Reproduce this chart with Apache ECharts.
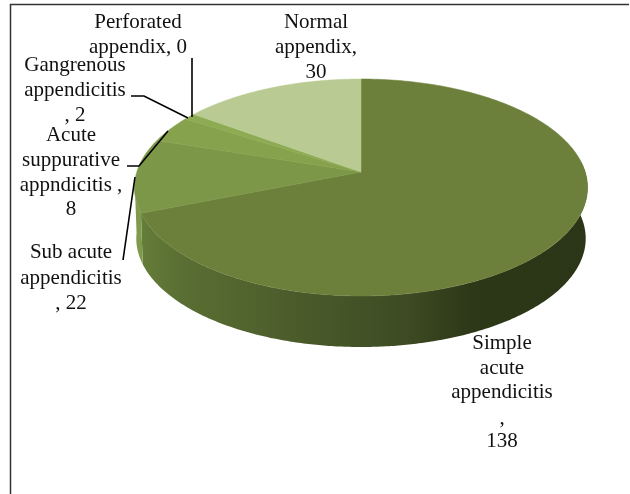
<!DOCTYPE html>
<html>
<head>
<meta charset="utf-8">
<style>
  html, body { margin: 0; padding: 0; background: #fff; }
  #chart { width: 630px; height: 494px; }
</style>
<script src="https://cdn.jsdelivr.net/npm/echarts@6/dist/echarts.min.js"></script>
</head>
<body>
<div id="chart"></div>
<script>
// Chart data, clockwise from 12 o'clock.
const categories = ['Simple acute appendicitis', 'Sub acute appendicitis', 'Acute suppurative appndicitis', 'Gangrenous appendicitis', 'Perforated appendix', 'Normal appendix'];
const values = [138, 22, 8, 2, 0, 30];
const topColors = ['#6c803b', '#7d9748', '#86a24c', '#8dab52', '#a0bb6c', '#b9cb92'];

// Pie projection, a tilted disc seen in perspective.
const cx = 361, cy = 172, rx = 224.2, ry = 106.3, persp = 1 / 7, depth = 51;
const total = values.reduce((a, b) => a + b, 0);

// Text of each label, broken as in the picture.
const labelLines = [
  { lines: ['Simple', 'acute', 'appendicitis', ',', '138'], x: 502, y: [343, 368, 392, 418, 441] },
  { lines: ['Sub acute', 'appendicitis', ', 22'], x: 71, y: [252, 278, 303] },
  { lines: ['Acute', 'suppurative', 'appndicitis ,', '8'], x: 71, y: [135, 160, 185, 209] },
  { lines: ['Gangrenous', 'appendicitis', ', 2'], x: 75, y: [65, 90, 115] },
  { lines: ['Perforated', 'appendix, 0'], x: 138, y: [22, 47] },
  { lines: ['Normal', 'appendix,', '30'], x: 316, y: [22, 47, 72] }
];
const leaderLines = [
  [[135, 177], [123, 260]],
  [[127, 166], [139, 166], [168, 131]],
  [[131, 96], [144, 96], [188, 118]],
  [[192, 58], [192, 117]]
];

function project(angle) {
  const u = Math.sin(angle), v = -Math.cos(angle);
  const d = 1 - persp * v;
  return [cx + rx * u / d, cy + ry * v / d];
}

function arcPoints(from, to) {
  const n = Math.max(2, Math.ceil(Math.abs(to - from) / 0.01));
  const pts = [];
  for (let i = 0; i <= n; i++) {
    pts.push(project(from + (to - from) * i / n));
  }
  return pts;
}

function sliceRange(index) {
  let sum = 0;
  for (let i = 0; i < index; i++) sum += values[i];
  return [sum / total * Math.PI * 2, (sum + values[index]) / total * Math.PI * 2];
}

// Visible outer wall: only the part of the rim that faces the viewer.
function wallPoints(from, to) {
  const top = arcPoints(from, to);
  const bottom = top.map(p => [cx + (p[0] - cx) * 0.992, p[1] + depth]).reverse();
  return top.concat(bottom);
}

const wallGradient = new echarts.graphic.LinearGradient(134, 0, 588, 0, [
  { offset: 0, color: '#67803a' },
  { offset: 0.1, color: '#5a6f33' },
  { offset: 0.35, color: '#4b5c2b' },
  { offset: 0.6, color: '#3d4b23' },
  { offset: 0.74, color: '#2d3818' },
  { offset: 1, color: '#2b3517' }
], true);

function renderSlice(params, api) {
  const i = api.value(0);
  const range = sliceRange(i);
  if (values[i] === 0) return { type: 'group', children: [] };
  const rimEnd = Math.max(range[0], Math.PI * 1.5);
  const children = [];
  // Walls of the slices that cross the front half of the rim.
  if (range[0] < Math.PI * 1.47) {
    const start = Math.max(range[0], Math.PI * 0.47);
    const end = Math.min(range[1], Math.PI * 1.47);
    children.push({
      type: 'polygon',
      z2: 1,
      shape: { points: wallPoints(start, end) },
      style: { fill: i === 0 ? wallGradient : '#7f9a4a' }
    });
  }
  const face = [[cx, cy]].concat(arcPoints(range[0], range[1]));
  children.push({
    type: 'polygon',
    z2: 10 + i,
    shape: { points: face },
    style: { fill: topColors[i], stroke: topColors[i], lineWidth: 0.5 }
  });
  return { type: 'group', children: children };
}

const graphicItems = [
  { type: 'polyline', shape: { points: [[10.5, 494], [10.5, 4.5], [629, 4.5]] }, style: { fill: 'none', stroke: '#333', lineWidth: 1.5 }, z: 1 }
];
leaderLines.forEach(pts => {
  graphicItems.push({ type: 'polyline', shape: { points: pts }, style: { fill: 'none', stroke: '#000', lineWidth: 1.6 }, z: 20 });
});
labelLines.forEach(item => {
  item.lines.forEach((line, k) => {
    graphicItems.push({
      type: 'text',
      x: item.x,
      y: item.y[k],
      z: 20,
      style: {
        text: line,
        fill: '#111',
        font: '21px "Liberation Serif"',
        textAlign: 'center',
        textVerticalAlign: 'middle'
      }
    });
  });
});

const chart = echarts.init(document.getElementById('chart'), null, { renderer: 'canvas' });
chart.setOption({
  animation: false,
  backgroundColor: '#fff',
  graphic: graphicItems,
  series: [{
    type: 'custom',
    coordinateSystem: 'none',
    renderItem: renderSlice,
    silent: true,
    clip: false,
    data: categories.map((name, i) => ({ name: name, value: [i, values[i]] }))
  }]
});
</script>
</body>
</html>
